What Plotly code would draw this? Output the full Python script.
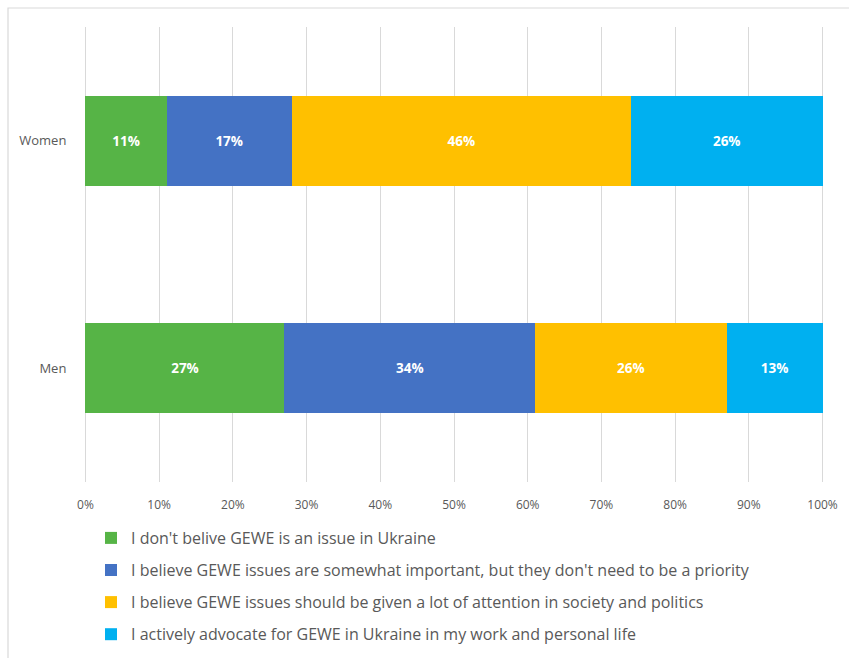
import plotly.graph_objects as go

# Survey groups and attitude shares (percent of respondents)
groups = ["Women", "Men"]
responses = [
    "I don't belive GEWE is an issue in Ukraine",
    "I believe GEWE issues are somewhat important, but they don't need to be a priority",
    "I believe GEWE issues should be given a lot of attention in society and politics",
    "I actively advocate for GEWE in Ukraine in my work and personal life",
]
shares = [
    [11, 27],
    [17, 34],
    [46, 26],
    [26, 13],
]
colors = ["#56B446", "#4472C4", "#FFC000", "#00B0F0"]
tick_vals = [0, 10, 20, 30, 40, 50, 60, 70, 80, 90, 100]
tick_text = [f"{v}%" for v in tick_vals]

W, H = 849, 658
ML, MR, MT, MB = 84, 25, 27, 176
GRAY = "#595959"
GRID = "#D9D9D9"

fig = go.Figure()
for i, (name, vals, col) in enumerate(zip(responses, shares, colors)):
    fig.add_trace(go.Bar(
        y=groups,
        x=vals,
        name=name,
        orientation="h",
        marker=dict(color=col, line=dict(width=0)),
        text=vals,
        texttemplate="<b>%{x}%</b>",
        textposition="inside",
        insidetextanchor="middle",
        textfont=dict(color="white", size=13.5, family="Open Sans"),
        constraintext="none",
        legendgroup=f"g{i}",
        hoverinfo="skip",
    ))

plot_w = W - ML - MR
plot_h = H - MT - MB
# outer frame: left and top edges visible, right/bottom run off the canvas
fig.add_shape(
    type="rect", xref="paper", yref="paper",
    x0=(8 - ML) / plot_w, x1=1.5,
    y0=-2, y1=(H - MB - 8) / plot_h,
    line=dict(color=GRID, width=1.2),
    layer="below",
)

fig.update_layout(
    width=W, height=H,
    margin=dict(l=ML, r=MR, t=MT, b=MB, autoexpand=False),
    barmode="stack",
    bargap=0.604,
    uniformtext=dict(minsize=13, mode="show"),
    paper_bgcolor="white",
    plot_bgcolor="white",
    font=dict(family="Open Sans", color=GRAY),
    xaxis=dict(
        range=[-0.2, 100.2],
        tickvals=tick_vals,
        ticktext=tick_text,
        showgrid=True, gridcolor=GRID, gridwidth=1,
        zeroline=False, showline=False,
        ticks="outside", ticklen=12, tickcolor="rgba(0,0,0,0)",
        tickfont=dict(size=12, color=GRAY),
        tickangle=0,
        automargin=False,
        fixedrange=True,
    ),
    yaxis=dict(
        categoryorder="array", categoryarray=groups,
        autorange="reversed",
        showgrid=False, zeroline=False, showline=False,
        ticks="outside", ticklen=14, tickcolor="rgba(0,0,0,0)",
        tickfont=dict(size=13, color=GRAY),
        automargin=False,
        fixedrange=True,
    ),
    legend=dict(
        orientation="v",
        traceorder="grouped",
        tracegroupgap=8.3,
        x=(91 - ML) / plot_w, xanchor="left",
        y=(H - MB - 521) / plot_h, yanchor="top",
        font=dict(size=16, family="Open Sans", color=GRAY),
        bgcolor="rgba(0,0,0,0)",
    ),
    showlegend=True,
)

fig.write_html("out.html")
